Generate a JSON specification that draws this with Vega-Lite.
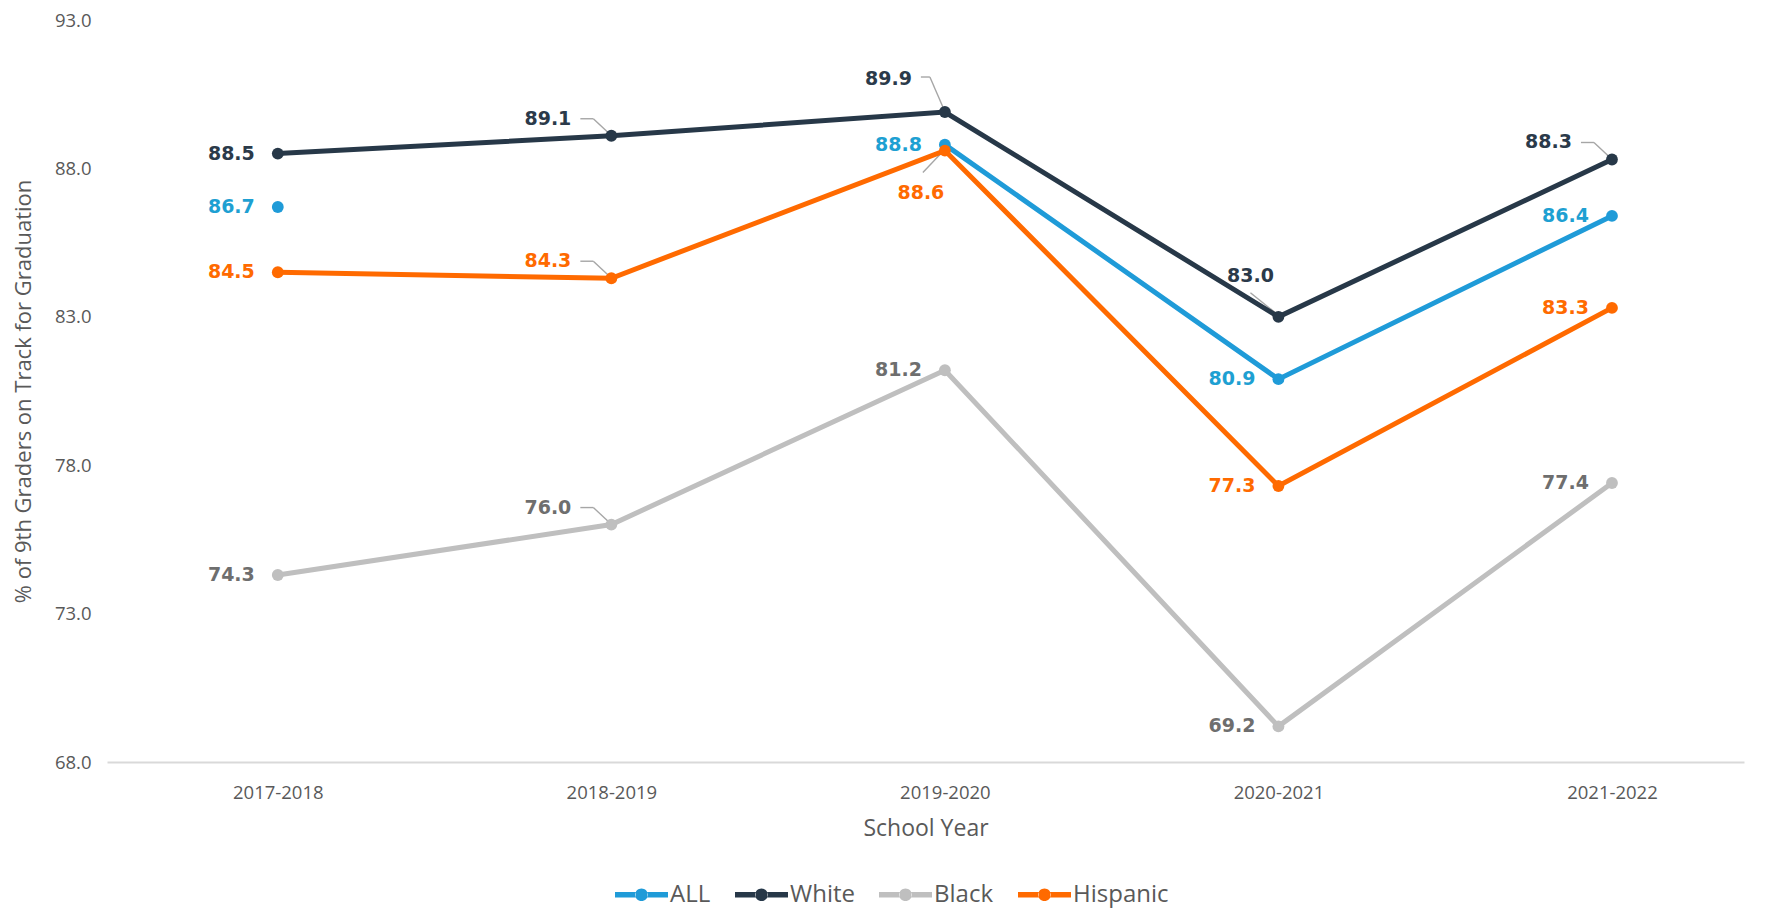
{
  "$schema": "https://vega.github.io/schema/vega-lite/v6.json",
  "width": 1637,
  "height": 742,
  "autosize": {"type": "none"},
  "padding": {"left": 107, "top": 20, "right": 26, "bottom": 147},
  "background": "white",
  "config": {"view": {"stroke": null}, "font": "Open Sans"},
  "data": {
    "values": [
      {"year": "2017-2018", "series": "ALL", "value": 86.7},
      {"year": "2018-2019", "series": "ALL", "value": null},
      {"year": "2019-2020", "series": "ALL", "value": 88.8},
      {"year": "2020-2021", "series": "ALL", "value": 80.9},
      {"year": "2021-2022", "series": "ALL", "value": 86.4},
      {"year": "2017-2018", "series": "White", "value": 88.5},
      {"year": "2018-2019", "series": "White", "value": 89.1},
      {"year": "2019-2020", "series": "White", "value": 89.9},
      {"year": "2020-2021", "series": "White", "value": 83.0},
      {"year": "2021-2022", "series": "White", "value": 88.3},
      {"year": "2017-2018", "series": "Black", "value": 74.3},
      {"year": "2018-2019", "series": "Black", "value": 76.0},
      {"year": "2019-2020", "series": "Black", "value": 81.2},
      {"year": "2020-2021", "series": "Black", "value": 69.2},
      {"year": "2021-2022", "series": "Black", "value": 77.4},
      {"year": "2017-2018", "series": "Hispanic", "value": 84.5},
      {"year": "2018-2019", "series": "Hispanic", "value": 84.3},
      {"year": "2019-2020", "series": "Hispanic", "value": 88.6},
      {"year": "2020-2021", "series": "Hispanic", "value": 77.3},
      {"year": "2021-2022", "series": "Hispanic", "value": 83.3}
    ]
  },
  "encoding": {
    "x": {
      "field": "year",
      "type": "ordinal",
      "sort": ["2017-2018", "2018-2019", "2019-2020", "2020-2021", "2021-2022"],
      "scale": {"type": "point", "padding": 0.454, "align": 0.564},
      "axis": {
        "title": "School Year",
        "labelAngle": 0,
        "labelFontSize": 18.5,
        "labelColor": "#595959",
        "labelPadding": 21,
        "titleFontSize": 23,
        "titleFontWeight": "normal",
        "titleColor": "#595959",
        "titlePadding": 16,
        "domainColor": "#d9d9d9",
        "domainWidth": 2,
        "ticks": false,
        "grid": false
      }
    },
    "y": {
      "field": "value",
      "type": "quantitative",
      "scale": {"domain": [68, 93], "zero": false, "nice": false},
      "axis": {
        "title": "% of 9th Graders on Track for Graduation",
        "values": [68, 73, 78, 83, 88, 93],
        "format": ".1f",
        "labelFontSize": 18.5,
        "labelColor": "#595959",
        "labelPadding": 16,
        "titleFontSize": 22,
        "titleFontWeight": "normal",
        "titleColor": "#595959",
        "titlePadding": 19,
        "domain": false,
        "ticks": false,
        "grid": false
      }
    }
  },
  "layer": [
    {
      "layer": [
        {
          "transform": [{"filter": "(datum.year == '2018-2019' && datum.series != 'ALL') || (datum.series == 'White' && datum.year == '2021-2022')"}],
          "mark": {"type": "rule", "color": "#a6a6a6", "strokeWidth": 1.4, "xOffset": -31, "yOffset": -17, "x2Offset": -18, "y2Offset": -17},
          "encoding": {"x2": {"field": "year"}, "y2": {"field": "value"}}
        },
        {
          "transform": [{"filter": "(datum.year == '2018-2019' && datum.series != 'ALL') || (datum.series == 'White' && datum.year == '2021-2022')"}],
          "mark": {"type": "rule", "color": "#a6a6a6", "strokeWidth": 1.4, "xOffset": -18, "yOffset": -17, "x2Offset": -3, "y2Offset": -3},
          "encoding": {"x2": {"field": "year"}, "y2": {"field": "value"}}
        },
        {
          "transform": [{"filter": "datum.series == 'White' && datum.year == '2019-2020'"}],
          "mark": {"type": "rule", "color": "#a6a6a6", "strokeWidth": 1.4, "xOffset": -24, "yOffset": -35, "x2Offset": -15, "y2Offset": -35},
          "encoding": {"x2": {"field": "year"}, "y2": {"field": "value"}}
        },
        {
          "transform": [{"filter": "datum.series == 'White' && datum.year == '2019-2020'"}],
          "mark": {"type": "rule", "color": "#a6a6a6", "strokeWidth": 1.4, "xOffset": -15, "yOffset": -35, "x2Offset": -2, "y2Offset": -5},
          "encoding": {"x2": {"field": "year"}, "y2": {"field": "value"}}
        },
        {
          "transform": [{"filter": "datum.series == 'White' && datum.year == '2020-2021'"}],
          "mark": {"type": "rule", "color": "#a6a6a6", "strokeWidth": 1.4, "xOffset": -28, "yOffset": -24, "x2Offset": -3, "y2Offset": -4},
          "encoding": {"x2": {"field": "year"}, "y2": {"field": "value"}}
        },
        {
          "transform": [{"filter": "datum.series == 'Hispanic' && datum.year == '2019-2020'"}],
          "mark": {"type": "rule", "color": "#a6a6a6", "strokeWidth": 1.4, "xOffset": -22, "yOffset": 22, "x2Offset": -4, "y2Offset": 3},
          "encoding": {"x2": {"field": "year"}, "y2": {"field": "value"}}
        },
        {
          "mark": {"type": "line", "strokeWidth": 5, "invalid": "break-paths-show-domains"},
          "encoding": {
            "color": {
              "field": "series",
              "type": "nominal",
              "scale": {"domain": ["ALL", "White", "Black", "Hispanic"], "range": ["#1f9bd8", "#273848", "#bfbfbf", "#ff6a00"]},
              "legend": {
                "title": null,
                "orient": "none",
                "legendX": 508,
                "legendY": 848,
                "direction": "horizontal",
                "symbolType": "M-1,-0.1 L-0.22,-0.1 L-0.22,0.1 L-1,0.1 Z M0.22,-0.1 L1,-0.1 L1,0.1 L0.22,0.1 Z M-0.24,0 A0.24,0.24 0 1,0 0.24,0 A0.24,0.24 0 1,0 -0.24,0 Z",
                "symbolSize": 2809,
                "symbolStrokeWidth": 0,
                "symbolOpacity": 1,
                "labelFontSize": 24,
                "labelColor": "#595959",
                "labelOffset": 2,
                "columnPadding": 24
              }
            }
          }
        },
        {
          "mark": {"type": "point", "filled": true, "size": 140, "opacity": 1},
          "encoding": {
            "color": {
              "field": "series",
              "type": "nominal",
              "scale": {"domain": ["ALL", "White", "Black", "Hispanic"], "range": ["#1f9bd8", "#273848", "#bfbfbf", "#ff6a00"]},
              "legend": {
                "title": null,
                "orient": "none",
                "legendX": 508,
                "legendY": 848,
                "direction": "horizontal",
                "symbolType": "M-1,-0.1 L-0.22,-0.1 L-0.22,0.1 L-1,0.1 Z M0.22,-0.1 L1,-0.1 L1,0.1 L0.22,0.1 Z M-0.24,0 A0.24,0.24 0 1,0 0.24,0 A0.24,0.24 0 1,0 -0.24,0 Z",
                "symbolSize": 2809,
                "symbolStrokeWidth": 0,
                "symbolOpacity": 1,
                "labelFontSize": 24,
                "labelColor": "#595959",
                "labelOffset": 2,
                "columnPadding": 24
              }
            }
          }
        }
      ]
    },
    {
      "encoding": {
        "text": {"field": "value", "type": "quantitative", "format": ".1f"},
        "color": {
          "field": "series",
          "type": "nominal",
          "scale": {"domain": ["ALL", "White", "Black", "Hispanic"], "range": ["#1ea0d2", "#2b3a4a", "#6e6e6e", "#ff6a00"]},
          "legend": null
        }
      },
      "layer": [
        {
          "transform": [{"filter": "datum.value != null && !((datum.year == '2018-2019' && datum.series != 'ALL') || (datum.series == 'White' && datum.year != '2017-2018') || (datum.series == 'Hispanic' && datum.year == '2019-2020'))"}],
          "mark": {"type": "text", "align": "right", "baseline": "middle", "dx": -23, "font": "DejaVu Sans", "fontSize": 19, "fontWeight": "bold"}
        },
        {
          "transform": [{"filter": "(datum.year == '2018-2019' && datum.series != 'ALL') || (datum.series == 'White' && datum.year == '2021-2022')"}],
          "mark": {"type": "text", "align": "right", "baseline": "middle", "dx": -40, "dy": -17, "font": "DejaVu Sans", "fontSize": 19, "fontWeight": "bold"}
        },
        {
          "transform": [{"filter": "datum.series == 'White' && datum.year == '2019-2020'"}],
          "mark": {"type": "text", "align": "right", "baseline": "middle", "dx": -33, "dy": -33, "font": "DejaVu Sans", "fontSize": 19, "fontWeight": "bold"}
        },
        {
          "transform": [{"filter": "datum.series == 'White' && datum.year == '2020-2021'"}],
          "mark": {"type": "text", "align": "center", "baseline": "middle", "dx": -28, "dy": -41, "font": "DejaVu Sans", "fontSize": 19, "fontWeight": "bold"}
        },
        {
          "transform": [{"filter": "datum.series == 'Hispanic' && datum.year == '2019-2020'"}],
          "mark": {"type": "text", "align": "center", "baseline": "middle", "dx": -24, "dy": 42, "font": "DejaVu Sans", "fontSize": 19, "fontWeight": "bold"}
        }
      ]
    }
  ],
  "resolve": {"scale": {"color": "independent"}}
}
